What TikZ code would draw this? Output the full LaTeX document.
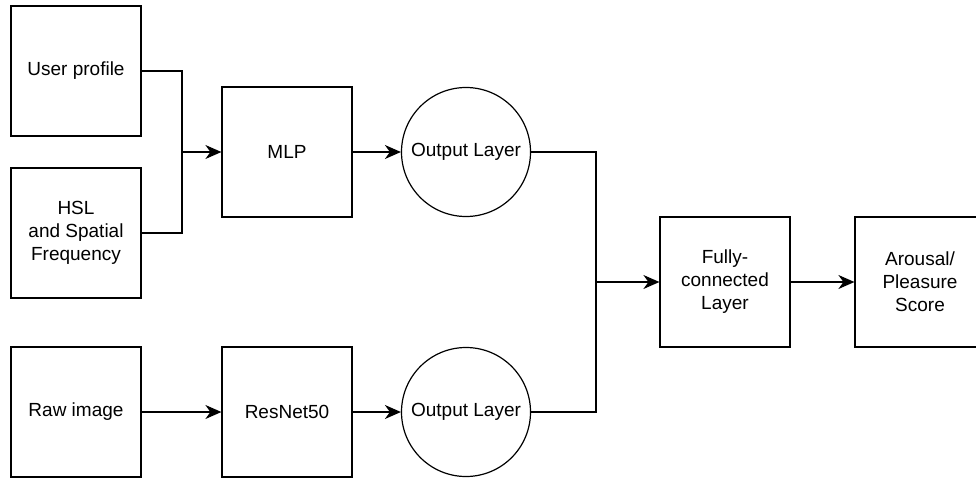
\documentclass[tikz,border=0pt]{standalone}
\usepackage{fontspec}
\setmainfont{Liberation Sans}
\usepackage{tikz}
\usetikzlibrary{arrows.meta}

\begin{document}
\begin{tikzpicture}[x=1pt, y=-1pt, line width=1.2pt,
	every node/.style={font=\fontsize{19}{23}\selectfont, align=center},
	box/.style={draw, minimum width=130pt, minimum height=130pt, inner sep=0pt},
	layer/.style={draw, circle, minimum size=129pt, inner sep=0pt},
	arr/.style={-{Stealth[length=16pt, width=14pt, inset=5pt]}}]
	\clip (0,0) rectangle (976,479);
	\useasboundingbox (0,0) rectangle (976,479);
	\node[box] (user) at (76,71) {User profile};
	\node[box] (hsl) at (76,233) {HSL\\and Spatial\\Frequency};
	\node[box] (raw) at (76,412) {Raw image};
	\node[box] (mlp) at (287,152) {MLP};
	\node[box] (resnet) at (287,412) {ResNet50};
	\node[layer] (out1) at (466,152) {Output Layer};
	\node[layer] (out2) at (466,412) {Output Layer};
	\node[box] (fc) at (725,282) {Fully-\\connected\\Layer};
	\node[box] (score) at (920,282) {Arousal/\\Pleasure\\Score};
	\coordinate (j1) at (182,152);
	\coordinate (j2) at (596,282);
	\draw (user.east) -| (j1);
	\draw (hsl.east) -| (j1);
	\draw[arr] (j1) -- (mlp.west);
	\draw[arr] (mlp) -- (out1);
	\draw[arr] (raw) -- (resnet);
	\draw[arr] (resnet) -- (out2);
	\draw (out1.east) -| (j2);
	\draw (out2.east) -| (j2);
	\draw[arr] (j2) -- (fc.west);
	\draw[arr] (fc) -- (score);
\end{tikzpicture}
\end{document}
